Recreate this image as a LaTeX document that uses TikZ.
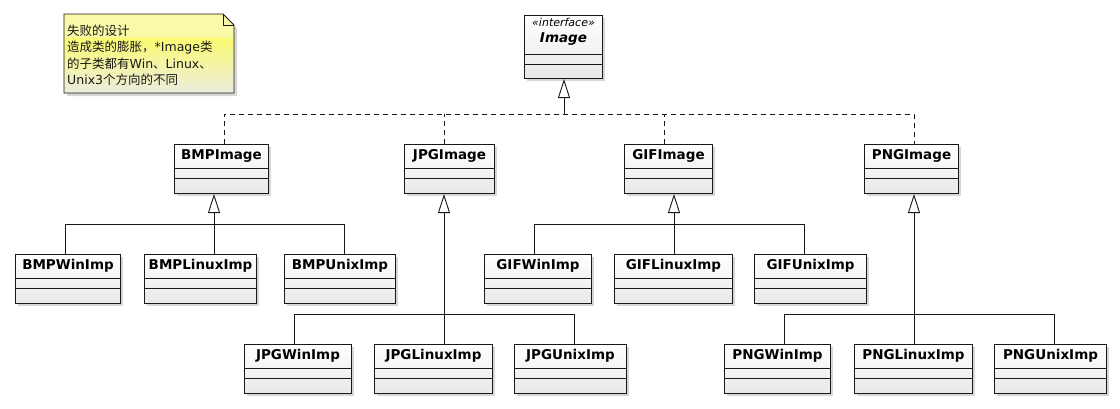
\documentclass[tikz,border=0pt]{standalone}
\usepackage{fontspec}
\setmainfont{DejaVu Sans}
\newfontfamily\cjk{Noto Sans CJK SC}
\usetikzlibrary{arrows.meta}
\definecolor{noteTop}{HTML}{F9F9A8}
\definecolor{noteMid}{HTML}{FBFB72}
\definecolor{noteBot}{HTML}{ECECDF}
\definecolor{boxBot}{HTML}{E8E8E8}
\definecolor{lineC}{HTML}{181818}
\pgfdeclareverticalshading{noteshade}{100bp}{color(0bp)=(noteBot); color(25bp)=(noteBot); color(60bp)=(noteMid); color(60.6bp)=(noteTop); color(75bp)=(noteTop); color(100bp)=(noteTop)}
\tikzset{
  clsbox/.style={draw=lineC, line width=1pt, top color=white, bottom color=boxBot, minimum height=49pt, inner sep=0pt},
  clstitle/.style={font=\fontsize{13.5}{15}\selectfont\bfseries, text=black, inner sep=0pt},
  clsline/.style={draw=lineC, line width=1pt},
  conn/.style={draw=lineC, line width=0.9pt},
  inh/.style={conn, -{Triangle[length=19pt,width=12pt,fill=white,line width=0.9pt]}},
  realize/.style={draw=lineC, line width=0.9pt, dash pattern=on 5pt off 4pt},
  shadowc/.style={fill=black, opacity=0.16},
}
\newcommand\umlcls[5]{% name, x1, x2, ytop, title
  \fill[shadowc] ({#2+3},{#4+3}) rectangle ({#3+3},{#4+52});
  \node[clsbox, minimum width={(#3-#2)*1pt}, anchor=north west] (#1) at (#2,#4) {};
  \node[clstitle] (#1-t) at ([yshift=-12pt]#1.north) {#5};
  \draw[clsline] ([yshift=-24pt]#1.north west) -- ([yshift=-24pt]#1.north east);
  \draw[clsline] ([yshift=-34pt]#1.north west) -- ([yshift=-34pt]#1.north east);
}
\begin{document}
\begin{tikzpicture}[x=1pt,y=-1pt]
\useasboundingbox (0,0) rectangle (1120,408);
\fill[white] (0,0) rectangle (1120,408);

% note
\fill[shadowc] (67,17) -- (226,17) -- (237,28) -- (237,96) -- (67,96) -- cycle;
\draw[lineC, line width=0.8pt, shading=noteshade] (64,14) -- (223,14) -- (234,25) -- (234,93) -- (64,93) -- cycle;
\draw[lineC, line width=0.8pt] (223,14) -- (223,25) -- (234,25);
\node[anchor=base west, align=left, inner sep=0pt, text=black!90,
      font=\fontsize{12.5}{16.5}\selectfont] (note) at (67,84.5)
  {{\cjk 失败的设计}\\
   {\cjk 造成类的膨胀，}*Image{\cjk 类}\\
   {\cjk 的子类都有}Win{\cjk 、}Linux{\cjk 、}\\
   Unix3{\cjk 个方向的不同}};

% interface
\fill[shadowc] (527,18) rectangle (605,81);
\node[clsbox, minimum width=78pt, minimum height=63pt, anchor=north west] (Image) at (524,15) {};
\node[inner sep=0pt, font=\fontsize{11}{13}\selectfont\itshape] (Image-s) at (563.5,22.5) {«interface»};
\node[inner sep=0pt, font=\fontsize{13.5}{15}\selectfont\bfseries\itshape] (Image-t) at (563.5,39.5) {Image};
\draw[clsline] ([yshift=-39pt]Image.north west) -- ([yshift=-39pt]Image.north east);
\draw[clsline] ([yshift=-49pt]Image.north west) -- ([yshift=-49pt]Image.north east);

% abstractions
\umlcls{BMPImage}{174}{268}{144}{BMPImage}
\umlcls{JPGImage}{404}{494}{144}{JPGImage}
\umlcls{GIFImage}{624}{712}{144}{GIFImage}
\umlcls{PNGImage}{864}{958}{144}{PNGImage}

% implementations
\umlcls{BMPWinImp}{15}{120}{254}{BMPWinImp}
\umlcls{BMPLinuxImp}{144}{256}{254}{BMPLinuxImp}
\umlcls{BMPUnixImp}{284}{395}{254}{BMPUnixImp}
\umlcls{GIFWinImp}{484}{591}{254}{GIFWinImp}
\umlcls{GIFLinuxImp}{614}{732}{254}{GIFLinuxImp}
\umlcls{GIFUnixImp}{754}{866}{254}{GIFUnixImp}
\umlcls{JPGWinImp}{244}{351}{344}{JPGWinImp}
\umlcls{JPGLinuxImp}{374}{492}{344}{JPGLinuxImp}
\umlcls{JPGUnixImp}{514}{626}{344}{JPGUnixImp}
\umlcls{PNGWinImp}{724}{830}{344}{PNGWinImp}
\umlcls{PNGLinuxImp}{854}{972}{344}{PNGLinuxImp}
\umlcls{PNGUnixImp}{994}{1106}{344}{PNGUnixImp}

% realization to interface
\coordinate (ib) at (564,114);
\coordinate (dB) at (224,114);
\coordinate (dJ) at (444,114);
\coordinate (dG) at (664,114);
\coordinate (dP) at (914,114);
\draw[realize] (BMPImage.north -| dB) -- (dB) -- (dP) -- (PNGImage.north -| dP);
\draw[realize] (JPGImage.north -| dJ) -- (dJ);
\draw[realize] (GIFImage.north -| dG) -- (dG);
\draw[inh] (ib) -- (Image.south -| ib);

% BMP
\coordinate (bB) at (214,224);
\coordinate (bW) at (65,224);
\coordinate (bU) at (344,224);
\draw[inh] (BMPLinuxImp.north -| bB) -- (BMPImage.south -| bB);
\draw[conn] (BMPWinImp.north -| bW) -- (bW) -- (bU) -- (BMPUnixImp.north -| bU);

% GIF
\coordinate (gB) at (674,224);
\coordinate (gW) at (534,224);
\coordinate (gU) at (804,224);
\draw[inh] (GIFLinuxImp.north -| gB) -- (GIFImage.south -| gB);
\draw[conn] (GIFWinImp.north -| gW) -- (gW) -- (gU) -- (GIFUnixImp.north -| gU);

% JPG
\coordinate (jB) at (444,314);
\coordinate (jW) at (294,314);
\coordinate (jU) at (574,314);
\draw[inh] (JPGLinuxImp.north -| jB) -- (JPGImage.south -| jB);
\draw[conn] (JPGWinImp.north -| jW) -- (jW) -- (jU) -- (JPGUnixImp.north -| jU);

% PNG
\coordinate (pB) at (914,314);
\coordinate (pW) at (784,314);
\coordinate (pU) at (1054,314);
\draw[inh] (PNGLinuxImp.north -| pB) -- (PNGImage.south -| pB);
\draw[conn] (PNGWinImp.north -| pW) -- (pW) -- (pU) -- (PNGUnixImp.north -| pU);
\end{tikzpicture}
\end{document}
